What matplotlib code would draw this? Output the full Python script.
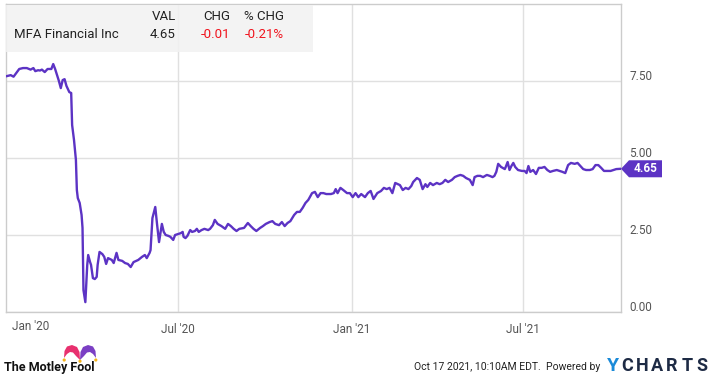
import numpy as np
import pandas as pd
import matplotlib
matplotlib.use("Agg")
import matplotlib.pyplot as plt
from matplotlib.patches import Rectangle, Polygon, Circle
from matplotlib.transforms import ScaledTranslation

plt.rcParams['font.family'] = ['Roboto', 'DejaVu Sans']

# MFA Financial Inc price
dates = [
    '2020-01-02', '2020-01-06', '2020-01-09', '2020-01-15', '2020-01-19', '2020-01-23', '2020-01-27',
    '2020-01-30', '2020-02-01', '2020-02-04', '2020-02-06', '2020-02-08', '2020-02-11', '2020-02-14',
    '2020-02-18', '2020-02-20', '2020-02-22', '2020-02-24', '2020-02-26', '2020-02-28', '2020-03-01',
    '2020-03-03', '2020-03-05', '2020-03-08', '2020-03-10', '2020-03-11', '2020-03-13', '2020-03-15',
    '2020-03-16', '2020-03-17', '2020-03-19', '2020-03-21', '2020-03-22', '2020-03-23', '2020-03-25',
    '2020-03-27', '2020-03-28', '2020-03-30', '2020-03-31', '2020-04-02', '2020-04-04', '2020-04-06',
    '2020-04-07', '2020-04-09', '2020-04-12', '2020-04-14', '2020-04-16', '2020-04-18', '2020-04-22',
    '2020-04-24', '2020-04-27', '2020-04-29', '2020-05-03', '2020-05-06', '2020-05-09', '2020-05-12',
    '2020-05-15', '2020-05-20', '2020-05-24', '2020-05-27', '2020-05-29', '2020-06-01', '2020-06-02',
    '2020-06-04', '2020-06-07', '2020-06-09', '2020-06-11', '2020-06-13', '2020-06-14', '2020-06-16',
    '2020-06-18', '2020-06-21', '2020-06-23', '2020-06-26', '2020-06-28', '2020-07-01', '2020-07-04',
    '2020-07-06', '2020-07-07', '2020-07-09', '2020-07-11', '2020-07-14', '2020-07-16', '2020-07-19',
    '2020-07-21', '2020-07-23', '2020-07-26', '2020-07-29', '2020-08-02', '2020-08-04', '2020-08-07',
    '2020-08-09', '2020-08-12', '2020-08-16', '2020-08-20', '2020-08-23', '2020-08-26', '2020-08-29',
    '2020-09-01', '2020-09-04', '2020-09-09', '2020-09-13', '2020-09-16', '2020-09-19', '2020-09-22',
    '2020-09-26', '2020-09-29', '2020-10-02', '2020-10-06', '2020-10-09', '2020-10-12', '2020-10-16',
    '2020-10-19', '2020-10-22', '2020-10-25', '2020-10-28', '2020-11-01', '2020-11-04', '2020-11-07',
    '2020-11-10', '2020-11-13', '2020-11-16', '2020-11-20', '2020-11-23', '2020-11-26', '2020-11-29',
    '2020-12-02', '2020-12-05', '2020-12-10', '2020-12-13', '2020-12-15', '2020-12-17', '2020-12-20',
    '2020-12-23', '2020-12-27', '2020-12-30', '2021-01-02', '2021-01-05', '2021-01-08', '2021-01-11',
    '2021-01-15', '2021-01-18', '2021-01-21', '2021-01-24', '2021-01-28', '2021-02-01', '2021-02-04',
    '2021-02-07', '2021-02-10', '2021-02-13', '2021-02-16', '2021-02-21', '2021-02-24', '2021-02-27',
    '2021-03-02', '2021-03-05', '2021-03-07', '2021-03-11', '2021-03-14', '2021-03-17', '2021-03-20',
    '2021-03-22', '2021-03-25', '2021-03-28', '2021-04-01', '2021-04-04', '2021-04-07', '2021-04-10',
    '2021-04-13', '2021-04-17', '2021-04-20', '2021-04-23', '2021-04-26', '2021-04-29', '2021-05-02',
    '2021-05-06', '2021-05-09', '2021-05-11', '2021-05-14', '2021-05-17', '2021-05-20', '2021-05-24',
    '2021-05-27', '2021-05-30', '2021-06-01', '2021-06-03', '2021-06-05', '2021-06-08', '2021-06-12',
    '2021-06-13', '2021-06-15', '2021-06-17', '2021-06-19', '2021-06-21', '2021-06-23', '2021-06-26',
    '2021-06-30', '2021-07-03', '2021-07-05', '2021-07-07', '2021-07-09', '2021-07-12', '2021-07-15',
    '2021-07-18', '2021-07-21', '2021-07-24', '2021-07-27', '2021-07-30', '2021-08-02', '2021-08-06',
    '2021-08-09', '2021-08-12', '2021-08-15', '2021-08-18', '2021-08-21', '2021-08-25', '2021-08-28',
    '2021-08-31', '2021-09-03', '2021-09-06', '2021-09-10', '2021-09-13', '2021-09-16', '2021-09-19',
    '2021-09-22', '2021-09-25', '2021-09-28', '2021-10-02', '2021-10-05', '2021-10-08', '2021-10-13',
]
prices = [
    7.66, 7.69, 7.64, 7.89, 7.92, 7.92, 7.87,
    7.92, 7.82, 7.85, 7.84, 7.87, 7.79, 7.89,
    7.89, 8.05, 7.89, 7.69, 7.50, 7.27, 7.53,
    7.56, 7.34, 7.14, 7.11, 6.07, 5.58, 4.94,
    3.96, 3.70, 3.54, 3.15, 2.73, 0.71, 0.32,
    1.53, 1.85, 1.62, 1.53, 1.10, 1.07, 1.14,
    1.53, 1.95, 1.88, 1.79, 1.56, 1.75, 1.69,
    1.59, 1.92, 1.69, 1.66, 1.59, 1.56, 1.46,
    1.62, 1.69, 1.79, 1.85, 1.75, 1.92, 2.01,
    3.05, 3.41, 2.82, 2.27, 2.66, 2.86, 2.60,
    2.50, 2.47, 2.44, 2.34, 2.50, 2.53, 2.56,
    2.60, 2.44, 2.40, 2.47, 2.66, 2.60, 2.63,
    2.70, 2.60, 2.66, 2.70, 2.66, 2.70, 2.82,
    2.99, 2.86, 2.79, 2.70, 2.86, 2.79, 2.70,
    2.63, 2.70, 2.73, 2.89, 2.79, 2.70, 2.63,
    2.73, 2.79, 2.86, 2.92, 2.95, 2.86, 2.82,
    2.92, 2.79, 2.89, 2.95, 3.15, 3.25, 3.25,
    3.38, 3.54, 3.64, 3.86, 3.90, 3.73, 3.86,
    3.86, 3.83, 3.83, 3.86, 3.99, 3.86, 4.03,
    3.96, 3.86, 3.86, 3.73, 3.86, 3.73, 3.83,
    3.73, 3.86, 3.93, 3.67, 3.86, 3.93, 4.03,
    3.99, 4.03, 3.86, 4.19, 4.12, 3.96, 4.03,
    3.99, 4.09, 4.22, 4.35, 4.29, 3.99, 4.15,
    4.06, 4.19, 4.12, 4.19, 4.15, 4.19, 4.29,
    4.22, 4.29, 4.38, 4.42, 4.45, 4.42, 4.35,
    4.29, 4.12, 4.38, 4.42, 4.42, 4.38, 4.45,
    4.42, 4.38, 4.42, 4.55, 4.81, 4.71, 4.64,
    4.71, 4.87, 4.61, 4.74, 4.84, 4.71, 4.61,
    4.58, 4.58, 4.51, 4.74, 4.55, 4.61, 4.48,
    4.68, 4.68, 4.71, 4.61, 4.55, 4.58, 4.61,
    4.58, 4.55, 4.51, 4.77, 4.84, 4.81, 4.84,
    4.74, 4.64, 4.61, 4.61, 4.64, 4.77, 4.77,
    4.68, 4.58, 4.58, 4.58, 4.61, 4.64, 4.65,
]

tick_dates = ['2020-07-01', '2021-01-01', '2021-07-01']
tick_labels = ["Jul '20", "Jan '21", "Jul '21"]
y_ticks = [0, 2.5, 5, 7.5]

name = 'MFA Financial Inc'
val = '4.65'
chg = '-0.01'
pct_chg = '-0.21%'

purple = '#5c33c4'
red = '#f0141e'
W, H = 713, 378

def fx(x):
    return x / W

def fy(y):
    return 1 - y / H

fig = plt.figure(figsize=(W / 100, H / 100), dpi=100)
ax = fig.add_axes([fx(6), fy(312), fx(621) - fx(6), fy(4) - fy(312)])

x = pd.to_datetime(dates)
ax.plot(x, prices, color=purple, lw=1.7, zorder=3)

ax.set_xlim(pd.Timestamp('2020-01-01'), pd.Timestamp('2021-10-13'))
ax.set_ylim(0, 10)

ax.set_yticks(y_ticks)
ax.set_yticklabels(['%.2f' % v for v in y_ticks])
ax.yaxis.tick_right()
ax.set_xticks(pd.to_datetime(tick_dates))
ax.set_xticklabels(tick_labels)
ax.tick_params(length=0, labelsize=8.5, labelcolor='#555555')
ax.tick_params(axis='y', pad=6)
ax.tick_params(axis='x', pad=8)
ax.grid(True, color='#e0e0e0', lw=1)
ax.set_axisbelow(True)
for s in ax.spines.values():
    s.set_color('#cccccc')
    s.set_linewidth(1)

# value labels sit a little above their gridlines
shift_up = ScaledTranslation(0, 6 / 100, fig.dpi_scale_trans)
for lbl in ax.get_yticklabels():
    lbl.set_transform(lbl.get_transform() + shift_up)

# first month label sits just inside the left edge
fig.text(fx(31), fy(326), "Jan '20", ha='center', va='center', fontsize=8.5, color='#555555')

# legend panel
fig.patches.append(Rectangle((fx(6), fy(52)), fx(313) - fx(6), fy(5) - fy(52),
                             transform=fig.transFigure, facecolor='#f2f2f2', alpha=0.85,
                             edgecolor='none', zorder=5))
hdr_y, row_y = fy(16), fy(35)
fig.text(fx(176), hdr_y, 'VAL', ha='right', va='center', fontsize=9.5, color='#222222', zorder=6)
fig.text(fx(230), hdr_y, 'CHG', ha='right', va='center', fontsize=9.5, color='#222222', zorder=6)
fig.text(fx(284), hdr_y, '% CHG', ha='right', va='center', fontsize=9.5, color='#222222', zorder=6)
fig.text(fx(14), row_y, name, ha='left', va='center', fontsize=9.5, color='#222222', zorder=6)
fig.text(fx(176), row_y, val, ha='right', va='center', fontsize=9.5, color='#222222', zorder=6)
fig.text(fx(230), row_y, chg, ha='right', va='center', fontsize=9.5, color=red, zorder=6)
fig.text(fx(284), row_y, pct_chg, ha='right', va='center', fontsize=9.5, color=red, zorder=6)

# last value tag
ty = 312 - 30.8 * prices[-1]
tag = [(fx(621), fy(ty)), (fx(629), fy(ty - 8.5)), (fx(662), fy(ty - 8.5)),
       (fx(662), fy(ty + 8.5)), (fx(629), fy(ty + 8.5))]
fig.patches.append(Polygon(tag, closed=True, transform=fig.transFigure,
                           facecolor=purple, edgecolor='none'))
fig.text(fx(646), fy(ty), val, ha='center', va='center', fontsize=8.5,
         color='white', fontweight='bold')

# footer: Motley Fool wordmark with a small jester cap
fig.text(fx(4), fy(368), 'The Motley Fool', ha='left', va='center', fontsize=9,
         fontweight='bold', color='#111111')
lax = fig.add_axes([fx(62), fy(363), fx(36), 18 / H])
lax.set_xlim(0, 36)
lax.set_ylim(0, 18)
lax.axis('off')
pink_cap = [(18, 3), (17.5, 11), (15, 16), (10, 18), (5, 16.5), (2.5, 12), (2, 5),
            (5, 9), (8, 11), (11, 10.5), (14, 7)]
purple_cap = [(36 - px, py) for px, py in pink_cap]
lax.add_patch(Polygon(pink_cap, closed=True, facecolor='#e8306e', edgecolor='none'))
lax.add_patch(Polygon(purple_cap, closed=True, facecolor='#7b3fc4', edgecolor='none'))
for bx, by in [(2.2, 3), (18, 1.8), (33.8, 3)]:
    lax.add_patch(Circle((bx, by), 1.6, facecolor='#f5b31b', edgecolor='none'))

fig.text(fx(600), fy(367), 'Oct 17 2021, 10:10AM EDT.  Powered by', ha='right', va='center',
         fontsize=7.5, color='#222222')
fig.text(fx(613), fy(366), 'Y', ha='center', va='center', fontsize=14, fontweight='bold',
         color='#1a8ad8')
for i, ch in enumerate('CHARTS'):
    fig.text(fx(627 + i * 15.0), fy(366), ch, ha='center', va='center', fontsize=13,
             fontweight='bold', color='#1d2a44')

fig.savefig('out.png', dpi=100)
